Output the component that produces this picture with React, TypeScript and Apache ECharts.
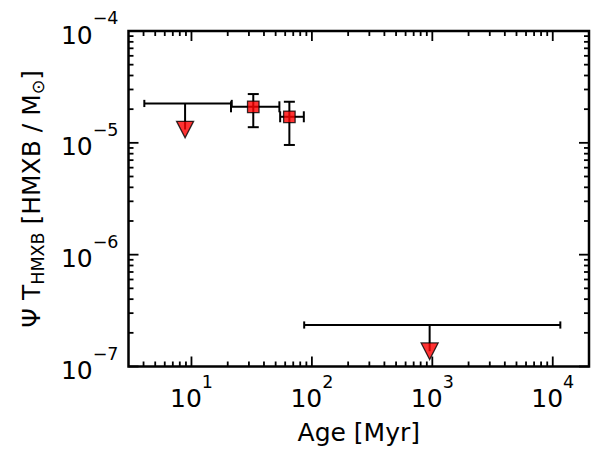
import React, { useEffect, useRef } from 'react';
import * as echarts from 'echarts';

// Upper limits (downward triangles): age, age range, level of the bar, level of the marker
const limitAge = [8.85, 950];
const limitAgeLow = [4.06, 86.3];
const limitAgeHigh = [21.6, 11560];
const limitBar = [2.25e-5, 2.35e-7];
const limitMarker = [1.315e-5, 1.37e-7];

// Measurements (squares) with age and value errors
const detAge = [32.6, 65.0];
const detAgeLow = [21.3, 54.5];
const detAgeHigh = [53.7, 85.7];
const detValue = [2.1e-5, 1.71e-5];
const detValueLow = [1.38e-5, 9.57e-6];
const detValueHigh = [2.73e-5, 2.33e-5];

// Axis ranges and tick decades
const X_MIN = 3;
const X_MAX = 20000;
const Y_MIN = 1e-7;
const Y_MAX = 1e-4;
const xDecades = [1, 10, 100, 1000, 10000];
const yDecades = [1e-8, 1e-7, 1e-6, 1e-5, 1e-4];
const minorMultiples = [2, 3, 4, 5, 6, 7, 8, 9];

const FONT = 'DejaVu Sans';
const MAJOR_LEN = 10;
const MINOR_LEN = 5;

const powerLabel = (v: number) => {
  const lg = Math.log10(v);
  const e = Math.round(lg);
  if (Math.abs(lg - e) > 1e-6) return '';
  const exp = (e < 0 ? '\u2212' : '') + Math.abs(e);
  return `{b|10}{e|${exp}}`;
};

const labelRich = {
  b: { fontSize: 25, fontFamily: FONT, color: '#000', padding: [8, 0, 0, 0] },
  e: { fontSize: 17.5, fontFamily: FONT, color: '#000', padding: [0, 0, 26, 0] },
};

const seg = (x1: number, y1: number, x2: number, y2: number, width: number, z: number) => ({
  type: 'line',
  silent: true,
  z,
  shape: { x1, y1, x2, y2 },
  style: { stroke: '#000', lineWidth: width },
});

// Inward ticks on all four sides of the frame, placed through the chart's log scales
const buildTicks = (toPx: (p: number[]) => number[]) => {
  const lo = toPx([X_MIN, Y_MIN]);
  const hi = toPx([X_MAX, Y_MAX]);
  const out: any[] = [];
  xDecades.forEach((d) =>
    [1, ...minorMultiples].forEach((m) => {
      const v = d * m;
      if (v <= X_MIN || v >= X_MAX) return;
      const len = m === 1 ? MAJOR_LEN : MINOR_LEN;
      const px = toPx([v, 1e-5])[0];
      out.push(seg(px, lo[1], px, lo[1] - len, 1.8, 10));
      out.push(seg(px, hi[1], px, hi[1] + len, 1.8, 10));
    })
  );
  yDecades.forEach((d) =>
    [1, ...minorMultiples].forEach((m) => {
      const v = d * m;
      if (v <= Y_MIN * 0.999 || v >= Y_MAX * 1.001) return;
      const len = m === 1 ? MAJOR_LEN : MINOR_LEN;
      const py = toPx([10, v])[1];
      out.push(seg(lo[0], py, lo[0] + len, py, 1.8, 10));
      out.push(seg(hi[0], py, hi[0] - len, py, 1.8, 10));
    })
  );
  return out;
};

// Error bars of the measurements and range bars / stems of the upper limits
const buildErrorBars = (toPx: (p: number[]) => number[]) => {
  const out: any[] = [];
  const W = 2;
  detAge.forEach((a, i) => {
    const c = toPx([a, detValue[i]]);
    const xl = toPx([detAgeLow[i], detValue[i]])[0];
    const xh = toPx([detAgeHigh[i], detValue[i]])[0];
    const yl = toPx([a, detValueLow[i]])[1];
    const yh = toPx([a, detValueHigh[i]])[1];
    const cap = 5.5;
    out.push(seg(xl, c[1], xh, c[1], W, 1));
    out.push(seg(xl, c[1] - cap, xl, c[1] + cap, W, 1));
    out.push(seg(xh, c[1] - cap, xh, c[1] + cap, W, 1));
    out.push(seg(c[0], yl, c[0], yh, W, 1));
    out.push(seg(c[0] - cap, yl, c[0] + cap, yl, W, 1));
    out.push(seg(c[0] - cap, yh, c[0] + cap, yh, W, 1));
  });
  limitAge.forEach((a, i) => {
    const c = toPx([a, limitBar[i]]);
    const xl = toPx([limitAgeLow[i], limitBar[i]])[0];
    const xh = toPx([limitAgeHigh[i], limitBar[i]])[0];
    const ym = toPx([a, limitMarker[i]])[1];
    const cap = 3.6;
    out.push(seg(xl, c[1], xh, c[1], W, 1));
    out.push(seg(xl, c[1] - cap, xl, c[1] + cap, W, 1));
    out.push(seg(xh, c[1] - cap, xh, c[1] + cap, W, 1));
    out.push(seg(c[0], c[1], c[0], ym, W, 1));
  });
  return out;
};

export default function App() {
  const ref = useRef<HTMLDivElement>(null);

  useEffect(() => {
    if (!ref.current) return;
    const chart = echarts.init(ref.current, undefined, { renderer: 'svg' });

    chart.setOption({
      animation: false,
      backgroundColor: '#fff',
      grid: {
        left: 128.5,
        top: 31,
        width: 460.5,
        height: 335.5,
        show: true,
        borderColor: '#000',
        borderWidth: 2.5,
        outerBoundsMode: 'none',
      },
      xAxis: {
        type: 'log',
        min: X_MIN,
        max: X_MAX,
        axisLine: { show: false },
        axisTick: { show: false },
        splitLine: { show: false },
        axisLabel: { formatter: powerLabel, margin: 6, rich: labelRich },
        name: 'Age [Myr]',
        nameLocation: 'middle',
        nameGap: 53,
        nameTextStyle: { fontSize: 25, fontFamily: FONT, color: '#000' },
      },
      yAxis: {
        type: 'log',
        min: Y_MIN,
        max: Y_MAX,
        axisLine: { show: false },
        axisTick: { show: false },
        splitLine: { show: false },
        axisLabel: { formatter: powerLabel, margin: 10, rich: labelRich },
      },
      series: [
        {
          type: 'scatter',
          name: 'upper limits',
          data: limitAge.map((a, i) => [a, limitMarker[i]]),
          symbol: 'triangle',
          symbolRotate: 180,
          symbolSize: [17, 16.5],
          itemStyle: { color: '#ff0000', borderColor: '#000', borderWidth: 1.3 },
        },
        {
          type: 'scatter',
          name: 'measurements',
          data: detAge.map((a, i) => [a, detValue[i]]),
          symbol: 'rect',
          symbolSize: 11.5,
          itemStyle: { color: '#ff0000', borderColor: '#000', borderWidth: 1.3 },
        },
      ],
    });

    const toPx = (p: number[]) => chart.convertToPixel({ gridIndex: 0 }, p) as number[];

    const yTitle = {
      type: 'text',
      x: 31.5,
      y: 198.75,
      rotation: Math.PI / 2,
      style: {
        text: '{n|\u03A8 T}{s|HMXB}{n| [HMXB / M}{s|\u2299}{n|]}',
        align: 'center',
        verticalAlign: 'middle',
        fill: '#000',
        rich: {
          n: { fontSize: 25, fontFamily: FONT, fill: '#000' },
          s: { fontSize: 17.5, fontFamily: FONT, fill: '#000', padding: [12, 0, 0, 0] },
        },
      },
    };

    chart.setOption({ graphic: [...buildTicks(toPx), ...buildErrorBars(toPx), yTitle] });

    return () => chart.dispose();
  }, []);

  return (
    <div
      ref={ref}
      style={{ position: 'absolute', left: 0, top: 0, width: 605, height: 455, background: '#fff' }}
    />
  );
}
